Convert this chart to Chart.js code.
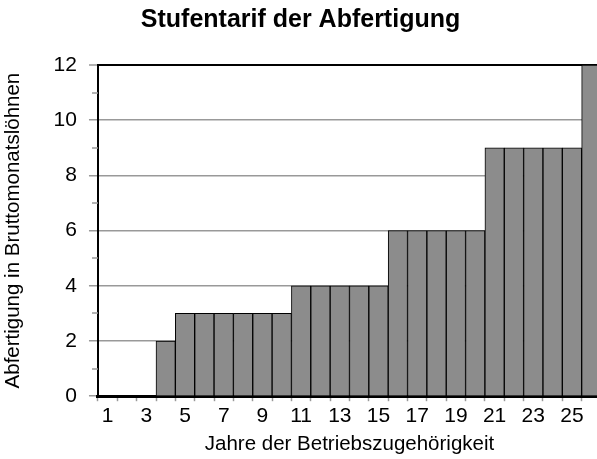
<!DOCTYPE html>
<html>
<head>
<meta charset="utf-8">
<script src="https://cdn.jsdelivr.net/npm/chart.js@4"></script>
<style>
body { margin: 0; overflow: hidden; background: #fff; }
#wrap { width: 616px; height: 459px; position: relative; }
</style>
</head>
<body>
<div id="wrap"><canvas id="chart"></canvas></div>
<script>
// Jahre der Betriebszugehoerigkeit und Abfertigung in Monatsloehnen
const jahre = ['1','2','3','4','5','6','7','8','9','10','11','12','13','14','15','16','17','18','19','20','21','22','23','24','25','26'];
const monatsloehne = [0,0,0,2,3,3,3,3,3,3,4,4,4,4,4,6,6,6,6,6,9,9,9,9,9,12];
const yTicks = [0,2,4,6,8,10,12];

const FONT = 'Liberation Sans, Arial, sans-serif';

// kurze Zwischenstriche an den ungeraden Werten
const minorTicks = {
  id: 'minorTicks',
  afterDraw(chart) {
    const y = chart.scales.y;
    const ctx = chart.ctx;
    ctx.save();
    ctx.strokeStyle = '#999';
    ctx.lineWidth = 1.5;
    for (let v = 1; v < 12; v += 2) {
      const py = Math.round(y.getPixelForValue(v));
      ctx.beginPath();
      ctx.moveTo(y.right - 6, py);
      ctx.lineTo(y.right, py);
      ctx.stroke();
    }
    ctx.restore();
  }
};

new Chart(document.getElementById('chart'), {
  type: 'bar',
  data: {
    labels: jahre,
    datasets: [{
      data: monatsloehne,
      backgroundColor: '#8c8c8c',
      borderColor: '#000',
      borderWidth: 1,
      categoryPercentage: 1,
      barPercentage: 1
    }]
  },
  options: {
    responsive: true,
    maintainAspectRatio: false,
    animation: false,
    layout: { padding: { left: 0, right: 15, top: 0, bottom: 2 } },
    plugins: {
      legend: { display: false },
      tooltip: { enabled: false },
      title: {
        display: true,
        text: 'Stufentarif der Abfertigung',
        color: '#000',
        font: { family: FONT, size: 25, weight: 'bold' },
        padding: { top: 5, bottom: 30 }
      }
    },
    scales: {
      x: {
        grid: {
          drawOnChartArea: false,
          tickLength: 5,
          tickColor: '#999',
          tickWidth: 1.5,
          offset: true
        },
        border: { color: '#000', width: 3 },
        ticks: {
          color: '#000',
          font: { family: FONT, size: 21 },
          autoSkip: false,
          maxRotation: 0,
          padding: 2,
          callback: (v, i) => (i % 2 === 0 ? jahre[i] : '')
        },
        title: {
          display: true,
          text: 'Jahre der Betriebszugehörigkeit',
          color: '#000',
          font: { family: FONT, size: 20.5 },
          padding: { top: 2, bottom: 0 }
        }
      },
      y: {
        min: 0,
        max: 12,
        afterBuildTicks: (s) => { s.ticks = yTicks.map(v => ({ value: v })); },
        grid: {
          color: (c) => (c.tick && c.tick.value === 12 ? '#000' : (c.tick && c.tick.value === 0 ? 'transparent' : '#999')),
          lineWidth: (c) => (c.tick && c.tick.value === 12 ? 2 : 1.5),
          tickColor: '#999',
          tickWidth: 1.5,
          tickLength: 9
        },
        border: { color: '#000', width: 2 },
        ticks: {
          color: '#000',
          font: { family: FONT, size: 21 },
          padding: 12
        },
        title: {
          display: true,
          text: 'Abfertigung in Bruttomonatslöhnen',
          color: '#000',
          font: { family: FONT, size: 20.5 },
          padding: { top: 1, bottom: 16 }
        }
      }
    }
  },
  plugins: [minorTicks]
});
</script>
</body>
</html>
